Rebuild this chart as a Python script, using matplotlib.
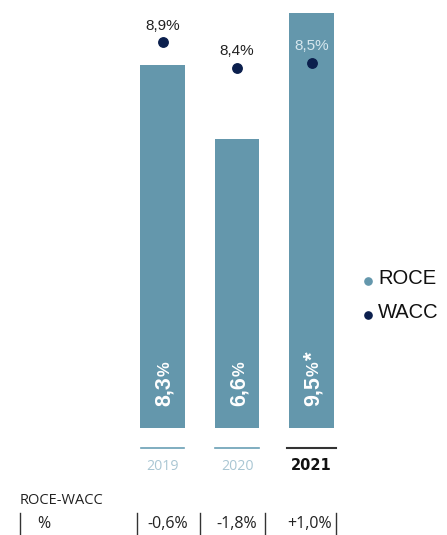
import matplotlib
matplotlib.use("Agg")
import matplotlib.pyplot as plt
from matplotlib.transforms import blended_transform_factory
from matplotlib.lines import Line2D

plt.rcParams['font.family'] = ['Liberation Sans', 'DejaVu Sans']

# ---- data ----
years = ["2019", "2020", "2021"]
roce = [8.3, 6.6, 9.5]
wacc = [8.9, 8.4, 8.5]
roce_nums = ["8,3", "6,6", "9,5"]
roce_marks = ["", "", "*"]
wacc_labels = ["8,9%", "8,4%", "8,5%"]

BAR = "#6497ac"
NAVY = "#0b1f4d"

W, H = 447, 535
fig = plt.figure(figsize=(W / 100, H / 100), dpi=100)
renderer = fig.canvas.get_renderer()

def px(x, y):
    return x / W, 1 - y / H

# main axis (bars)
ax = fig.add_axes([125.25 / W, (H - 428) / H, 223.5 / W, 428 / H])
x = list(range(len(years)))
ax.bar(x, roce, width=0.604, color=BAR, zorder=2)
ax.set_xlim(-0.5, 2.5)
ax.set_ylim(0, 9.787)
ax.axis('off')

# rotated ROCE labels inside bars: big digits, small %, asterisk
for i in x:
    base_x = 7.5  # px right of bar center (baseline side)
    t1 = ax.annotate(roce_nums[i], (i, 0), xytext=(base_x * 0.72, 22 * 0.72),
                     textcoords='offset points', rotation=90, rotation_mode='anchor',
                     ha='left', va='baseline', color='white', fontsize=15.5,
                     fontweight='bold')
    w1 = t1.get_window_extent(renderer).height
    t2 = ax.annotate("%", (i, 0), xytext=(base_x * 0.72, (22 + w1 + 0.5) * 0.72),
                     textcoords='offset points', rotation=90, rotation_mode='anchor',
                     ha='left', va='baseline', color='white', fontsize=12,
                     fontweight='bold')
    w2 = t2.get_window_extent(renderer).height
    if roce_marks[i]:
        ax.annotate(roce_marks[i], (i, 0), xytext=(base_x * 0.72, (22 + w1 + w2 + 1) * 0.72),
                    textcoords='offset points', rotation=90, rotation_mode='anchor',
                    ha='left', va='baseline', color='white', fontsize=16,
                    fontweight='bold')

# WACC dots on twin scale
ax2 = ax.twinx()
ax2.set_ylim(1.395, 9.722)
ax2.plot(x, wacc, 'o', color=NAVY, markersize=6.8, linestyle='none', zorder=3)
ax2.axis('off')
for i, lab in enumerate(wacc_labels):
    col = '#d6e7ee' if i == 2 else '#222222'
    ax2.annotate(lab, (i, wacc[i]), xytext=(0, 16.5 * 0.72), textcoords='offset points',
                 ha='center', va='center', color=col, fontsize=11)

# year labels and underlines
tr = blended_transform_factory(ax.transData, ax.transAxes)
for i, y in enumerate(years):
    last = i == len(years) - 1
    half = 0.33 if last else 0.29
    ax.plot([i - half, i + half], [-20 / 428, -20 / 428], transform=tr, clip_on=False,
            color='#333333' if last else '#6a9fb5', lw=1.5 if last else 1.2)
    if last:
        ax.text(i, -38 / 428, y, transform=tr, ha='center', va='center',
                fontsize=10.5, color='#111111', fontweight='bold',
                family=['DejaVu Sans'])
    else:
        ax.text(i, -38 / 428, y, transform=tr, ha='center', va='center',
                fontsize=10.2, color='#a9c6d3', family=['Open Sans', 'DejaVu Sans'])

# legend
fig.add_artist(Line2D([368 / W], [1 - 281 / H], marker='o', markersize=5.2,
                      color=BAR, linestyle='none', transform=fig.transFigure))
fig.text(*px(378, 279), "ROCE", ha='left', va='center', color='#111111', fontsize=14.5)
fig.add_artist(Line2D([368 / W], [1 - 315 / H], marker='o', markersize=5.2,
                      color=NAVY, linestyle='none', transform=fig.transFigure))
fig.text(*px(378, 312), "WACC", ha='left', va='center', color='#111111', fontsize=14.5)

# ROCE-WACC table
tfont = ['Open Sans', 'DejaVu Sans']
fig.text(*px(20, 501), "ROCE-WACC", ha='left', va='center', color='#222222',
         fontsize=10.5, family=tfont)
fig.text(*px(37, 524), "%", ha='left', va='center', color='#222222', fontsize=11.5,
         family=tfont)
for xs in [20, 137, 200, 265, 336]:
    fig.add_artist(Line2D([xs / W, xs / W], [1 - 513 / H, 1 - 535 / H],
                          transform=fig.transFigure, color='#333333', lw=1))
offs = [0.07, 0.0, -0.03]
for i, (r, w) in enumerate(zip(roce, wacc)):
    d = r - w
    s = ("+" if d > 0 else "-") + f"{abs(d):.1f}".replace(".", ",") + "%"
    ax.text(i + offs[i], -96 / 428, s, transform=tr, ha='center', va='center',
            fontsize=11.5, color='#222222', family=tfont)

fig.savefig("out.png", dpi=100)
